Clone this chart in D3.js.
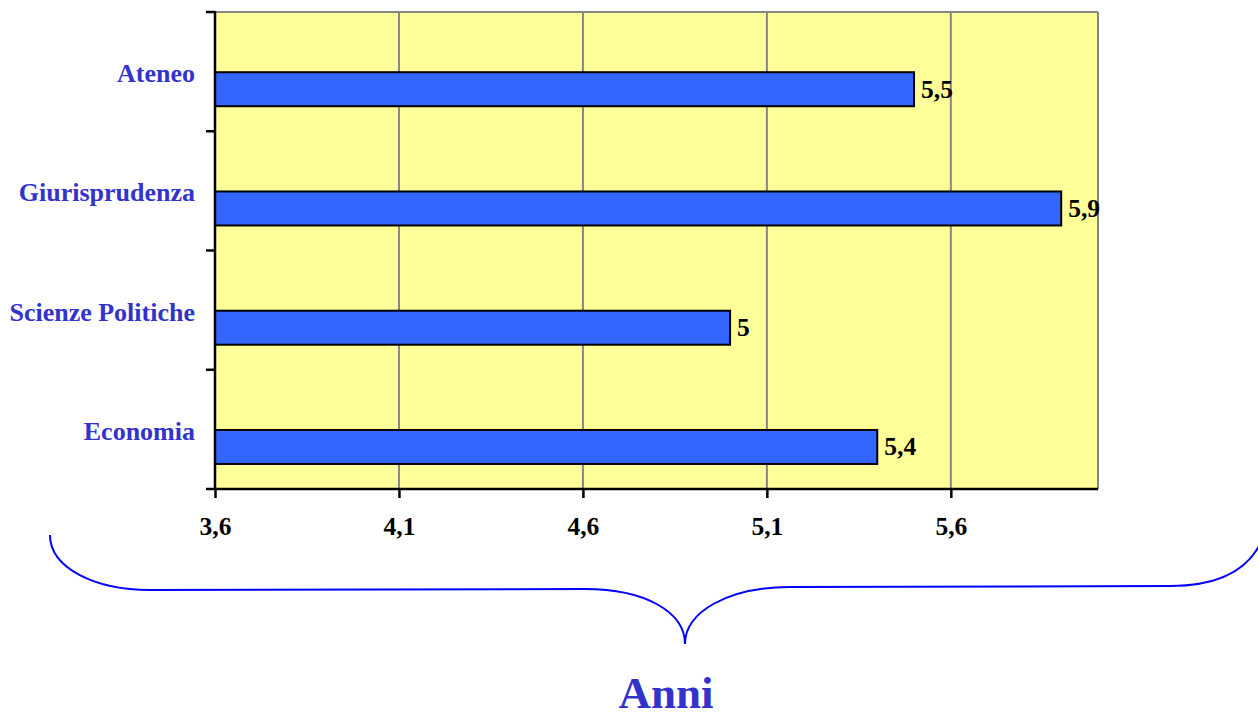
<!DOCTYPE html>
<html>
<head>
<meta charset="utf-8">
<script src="https://cdn.jsdelivr.net/npm/d3@7"></script>
<style>
  html, body { margin: 0; padding: 0; background: #ffffff; }
  svg { display: block; }
</style>
</head>
<body>
<svg id="chart" width="1258" height="720"></svg>
<script>
const categories = ["Ateneo", "Giurisprudenza", "Scienze Politiche", "Economia"];
const values = [5.5, 5.9, 5.0, 5.4];
const valueLabels = ["5,5", "5,9", "5", "5,4"];
const xTicks = [3.6, 4.1, 4.6, 5.1, 5.6];
const xTickLabels = ["3,6", "4,1", "4,6", "5,1", "5,6"];
const xDomain = [3.6, 6.0];
const axisTitle = "Anni";

(function () {
const svg = d3.select("#chart");
const pL = 215, pR = 1098, pT = 12, pB = 489;
const font = "'Liberation Serif', 'Times New Roman', serif";

const x = d3.scaleLinear().domain(xDomain).range([pL, pR]);
const y = d3.scaleBand().domain(categories).range([pT, pB]).paddingInner(0).paddingOuter(0);
const bw = y.bandwidth();

// plot background
svg.append("rect").attr("x", pL).attr("y", pT).attr("width", pR - pL).attr("height", pB - pT)
  .attr("fill", "#FFFF99");

// gridlines
svg.append("g").selectAll("line").data(xTicks.slice(1)).join("line")
  .attr("x1", d => x(d)).attr("x2", d => x(d)).attr("y1", pT).attr("y2", pB)
  .attr("stroke", "#868686").attr("stroke-width", 2);

// top & right borders
svg.append("line").attr("x1", pL).attr("x2", pR).attr("y1", pT).attr("y2", pT)
  .attr("stroke", "#868686").attr("stroke-width", 2);
svg.append("line").attr("x1", pR).attr("x2", pR).attr("y1", pT).attr("y2", pB)
  .attr("stroke", "#868686").attr("stroke-width", 2);

// bars
const barOffset = bw * 0.505, barH = bw * 0.285;
svg.append("g").selectAll("rect").data(values).join("rect")
  .attr("x", x(xDomain[0]))
  .attr("y", (d, i) => y(categories[i]) + barOffset)
  .attr("width", d => x(d) - x(xDomain[0]))
  .attr("height", barH)
  .attr("fill", "#3366FF").attr("stroke", "#000").attr("stroke-width", 2);

// value labels
svg.append("g").selectAll("text").data(values).join("text")
  .attr("x", d => x(d) + 7)
  .attr("y", (d, i) => y(categories[i]) + barOffset + barH / 2 + 8.5)
  .attr("font-family", font).attr("font-weight", "bold").attr("font-size", 25.5)
  .attr("fill", "#000").text((d, i) => valueLabels[i]);

// x axis
const xAxis = d3.axisBottom(x).tickValues(xTicks).tickSize(9).tickFormat((d, i) => xTickLabels[i]).tickSizeOuter(0);
const gx = svg.append("g").attr("transform", `translate(0,${pB})`).call(xAxis);
gx.select(".domain").attr("stroke", "#000").attr("stroke-width", 2.5).attr("d", `M${pL},0H${pR}`);
gx.selectAll(".tick line").attr("stroke", "#000").attr("stroke-width", 2.5);
gx.selectAll(".tick text").attr("font-family", font).attr("font-weight", "bold").attr("font-size", 25.5)
  .attr("fill", "#000").attr("dy", null).attr("y", 46);

// y axis (ticks at band boundaries)
const yTickPositions = categories.map(c => y(c)).concat([pB]);
svg.append("line").attr("x1", pL).attr("x2", pL).attr("y1", pT - 1).attr("y2", pB + 1)
  .attr("stroke", "#000").attr("stroke-width", 2.5);
svg.append("g").selectAll("line").data(yTickPositions).join("line")
  .attr("x1", pL - 9).attr("x2", pL).attr("y1", d => d).attr("y2", d => d)
  .attr("stroke", "#000").attr("stroke-width", 2.5);

// category labels
svg.append("g").selectAll("text").data(categories).join("text")
  .attr("x", pL - 20)
  .attr("y", d => y(d) + 70)
  .attr("text-anchor", "end")
  .attr("font-family", font).attr("font-weight", "bold").attr("font-size", 26)
  .attr("fill", "#3333CC").text(d => d);

// brace
svg.append("path")
  .attr("d", "M50,535 C50,568 95,590 150,590 L 585,589 C 645,589 685,612 685,644 C 685,612 728,587 790,587 L 1170,586 C 1215,586 1248,572 1262,540")
  .attr("fill", "none").attr("stroke", "#0000FF").attr("stroke-width", 2);

// axis title
svg.append("text").attr("x", 666).attr("y", 708).attr("text-anchor", "middle")
  .attr("font-family", font).attr("font-weight", "bold").attr("font-size", 45)
  .attr("fill", "#3333CC").text(axisTitle);
})();
</script>
</body>
</html>
